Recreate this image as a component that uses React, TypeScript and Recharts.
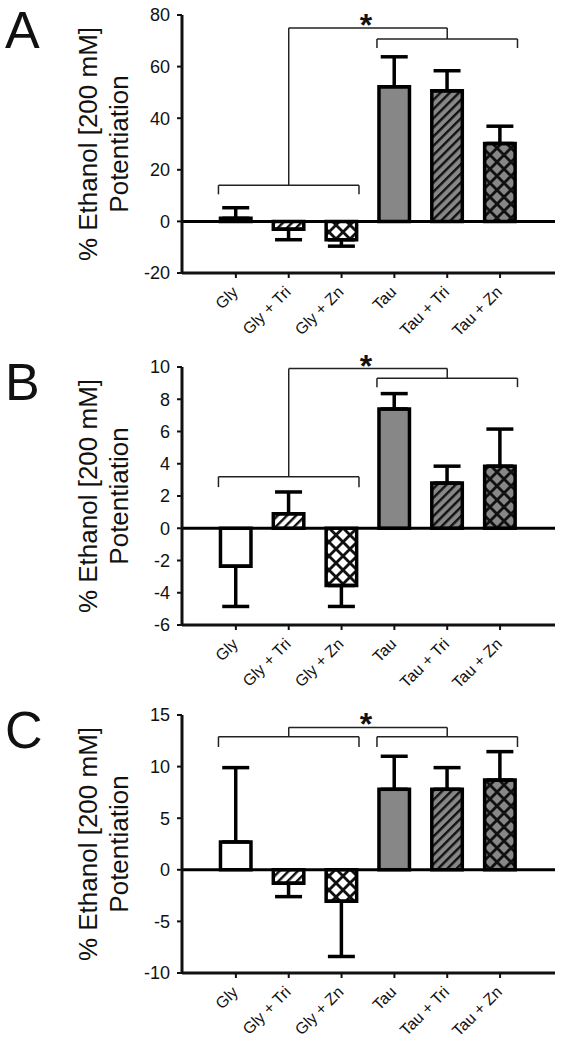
import React from 'react';
import { BarChart, Bar, XAxis, YAxis, Cell, ErrorBar, ReferenceLine } from 'recharts';

const FONT = '"Liberation Sans", Arial, Helvetica, sans-serif';
const INK = '#111';
const GRAY = '#878787';

const CATEGORIES = ['Gly', 'Gly + Tri', 'Gly + Zn', 'Tau', 'Tau + Tri', 'Tau + Zn'];
const X_TICKS = [0, 1, 2, 3, 4, 5];

// A
const A_MEANS = [1.2, -3.0, -7.1, 52.2, 50.6, 30.2];
const A_ERRS = [4.1, 4.1, 2.5, 11.6, 7.8, 6.7];
const A_TICKS = [-20, 0, 20, 40, 60, 80];
// left bracket level, left tips, right bracket level, right tips, top bar
const A_BRACKETS = [14, 10.5, 70.7, 67.2, 75];

// B
const B_MEANS = [-2.35, 0.9, -3.55, 7.4, 2.8, 3.85];
const B_ERRS = [2.5, 1.35, 1.3, 0.95, 1.05, 2.3];
const B_TICKS = [-6, -4, -2, 0, 2, 4, 6, 8, 10];
const B_BRACKETS = [3.2, 2.55, 9.3, 8.75, 9.9];

// C
const C_MEANS = [2.7, -1.3, -3.05, 7.8, 7.8, 8.7];
const C_ERRS = [7.2, 1.3, 5.35, 3.2, 2.1, 2.75];
const C_TICKS = [-10, -5, 0, 5, 10, 15];
const C_BRACKETS = [12.9, 11.9, 12.9, 11.9, 13.8];

const HALF = 0.33; // half a bar, in category units
const TOP = 35; // room above the plot for the asterisk

function XTick({ x, y, payload }: any) {
  const ax = x + 3;
  const ay = y + 13;
  return (
    <text x={ax} y={ay} transform={`rotate(-45 ${ax} ${ay})`} textAnchor="end" fontSize={16} fill={INK} fontFamily={FONT}>
      {CATEGORIES[payload.value]}
    </text>
  );
}

function YTitle() {
  const cy = TOP + 129;
  return (
    <g fontFamily={FONT} fontSize={26} fill={INK} textAnchor="middle">
      <text transform={`translate(97 ${cy}) rotate(-90)`}>% Ethanol [200 mM]</text>
      <text transform={`translate(128 ${cy}) rotate(-90)`}>Potentiation</text>
    </g>
  );
}

function Star(props: any) {
  const vb = props.viewBox || {};
  const cx = (vb.x ?? 0) + (vb.width ?? 0) / 2;
  return (
    <text x={cx - 2} y={(vb.y ?? 0) + 8} textAnchor="middle" fontSize={32} fontWeight="bold" fill={INK} fontFamily={FONT}>
      *
    </text>
  );
}

function Panel({ id, letter, plotTop, means, errs, ticks, brackets }: any) {
  const data = CATEGORIES.map((name, i) => ({
    x: i,
    name,
    v: means[i],
    err: means[i] >= 0 ? [0, errs[i]] : [errs[i], 0],
  }));
  const fills = ['#fff', `url(#${id}-sw)`, `url(#${id}-dw)`, GRAY, `url(#${id}-sg)`, `url(#${id}-dg)`];
  const [lY, lTip, rY, rTip, topY] = brackets;
  const segs = [
    [[-HALF, lTip], [-HALF, lY]],
    [[-HALF, lY], [2 + HALF, lY]],
    [[2 + HALF, lY], [2 + HALF, lTip]],
    [[1, lY], [1, topY]],
    [[3 - HALF, rTip], [3 - HALF, rY]],
    [[3 - HALF, rY], [5 + HALF, rY]],
    [[5 + HALF, rY], [5 + HALF, rTip]],
    [[4, rY], [4, topY]],
  ];
  const diamonds = (bg: string) => (
    <>
      <rect width={14} height={14} fill={INK} />
      <polygon points="7,2 12,7 7,12 2,7" fill={bg} />
      <polygon points="0,-5 5,0 0,5 -5,0" fill={bg} />
      <polygon points="14,-5 19,0 14,5 9,0" fill={bg} />
      <polygon points="0,9 5,14 0,19 -5,14" fill={bg} />
      <polygon points="14,9 19,14 14,19 9,14" fill={bg} />
    </>
  );
  const stripes = (bg: string) => (
    <>
      <rect width={6.5} height={6.5} fill={bg} />
      <rect width={2.4} height={6.5} fill={INK} />
    </>
  );

  const chartTop = plotTop - TOP;
  return (
    <div style={{ position: 'absolute', left: 0, top: chartTop, width: 565, height: 365 }}>
      <div
        style={{
          position: 'absolute',
          left: 5,
          top: 4 - chartTop + (plotTop - 15),
          fontSize: 52,
          lineHeight: 1,
          fontFamily: FONT,
          color: INK,
        }}
      >
        {letter}
      </div>
      <BarChart width={565} height={365} data={data} margin={{ top: TOP, right: 10, bottom: 0, left: 102 }}>
        <defs>
          <pattern id={`${id}-sw`} patternUnits="userSpaceOnUse" width={6.5} height={6.5} patternTransform="rotate(45)">
            {stripes('#fff')}
          </pattern>
          <pattern id={`${id}-sg`} patternUnits="userSpaceOnUse" width={6.5} height={6.5} patternTransform="rotate(45)">
            {stripes(GRAY)}
          </pattern>
          <pattern id={`${id}-dw`} patternUnits="userSpaceOnUse" width={14} height={14}>
            {diamonds('#fff')}
          </pattern>
          <pattern id={`${id}-dg`} patternUnits="userSpaceOnUse" width={14} height={14}>
            {diamonds(GRAY)}
          </pattern>
        </defs>
        <XAxis
          type="number"
          dataKey="x"
          domain={[-1.02, 6.04]}
          ticks={X_TICKS}
          interval={0}
          height={72}
          axisLine={{ stroke: INK, strokeWidth: 3 }}
          tickLine={{ stroke: INK, strokeWidth: 2 }}
          tickSize={5}
          tick={<XTick />}
        />
        <YAxis
          type="number"
          domain={[ticks[0], ticks[ticks.length - 1]]}
          ticks={ticks}
          interval={0}
          width={80}
          axisLine={{ stroke: INK, strokeWidth: 3 }}
          tickLine={{ stroke: INK, strokeWidth: 2 }}
          tickSize={5}
          tickMargin={7}
          tick={{ fontSize: 18, fill: INK, fontFamily: FONT }}
          label={<YTitle />}
        />
        <Bar dataKey="v" barSize={30.5} stroke="#000" strokeWidth={3.5} isAnimationActive={false}>
          {data.map((_d, i) => (
            <Cell key={i} fill={fills[i]} />
          ))}
          {/* width is the half-length of the cap */}
          <ErrorBar dataKey="err" width={13.5} strokeWidth={3.5} stroke="#000" direction="y" isAnimationActive={false} />
        </Bar>
        <ReferenceLine y={0} stroke="#000" strokeWidth={3} />
        {segs.map((s, i) => (
          <ReferenceLine
            key={i}
            segment={[{ x: s[0][0], y: s[0][1] }, { x: s[1][0], y: s[1][1] }]}
            stroke="#222"
            strokeWidth={1.5}
          />
        ))}
        <ReferenceLine
          segment={[{ x: 1, y: topY }, { x: 4, y: topY }]}
          stroke="#222"
          strokeWidth={1.5}
          label={<Star />}
        />
      </BarChart>
    </div>
  );
}

export default function App() {
  return (
    <div style={{ position: 'absolute', left: 0, top: 0, width: 565, height: 1050, background: '#fff' }}>
      <Panel id="pa" letter="A" plotTop={15} means={A_MEANS} errs={A_ERRS} ticks={A_TICKS} brackets={A_BRACKETS} />
      <Panel id="pb" letter="B" plotTop={367} means={B_MEANS} errs={B_ERRS} ticks={B_TICKS} brackets={B_BRACKETS} />
      <Panel id="pc" letter="C" plotTop={715} means={C_MEANS} errs={C_ERRS} ticks={C_TICKS} brackets={C_BRACKETS} />
    </div>
  );
}
